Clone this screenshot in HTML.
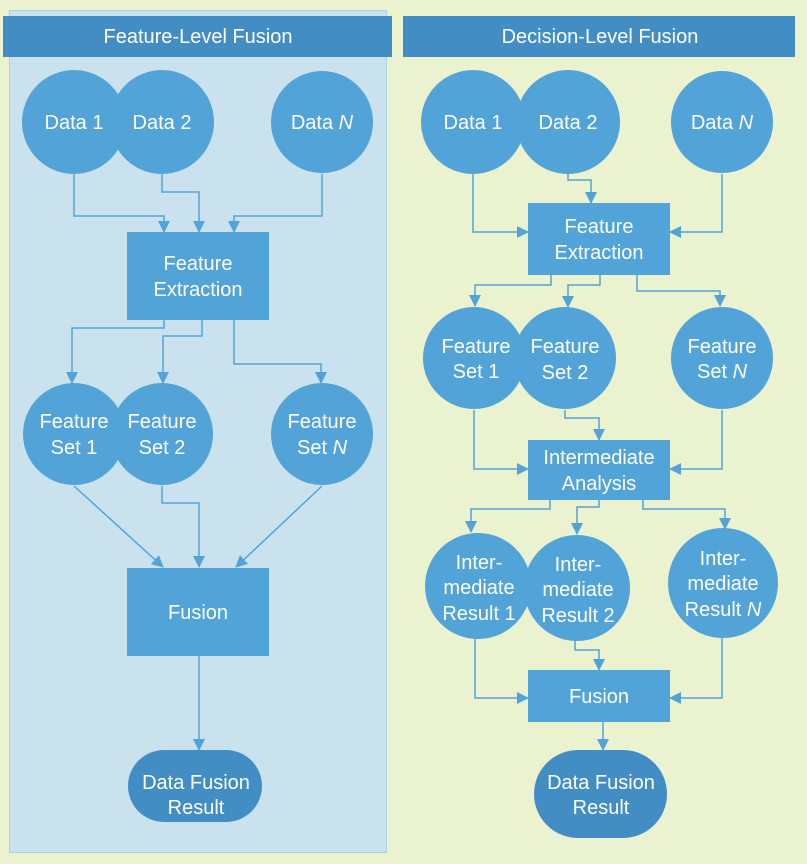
<!DOCTYPE html>
<html><head><meta charset="utf-8"><style>
html,body{margin:0;padding:0;background:#eaf2cf;}
svg{display:block}
text{font-family:"Liberation Sans",sans-serif;font-size:20px;fill:#fff;text-anchor:middle}
</style></head><body>
<svg width="807" height="864" viewBox="0 0 807 864" xmlns="http://www.w3.org/2000/svg">
<defs><marker id="a" markerWidth="12" markerHeight="12" refX="11" refY="6" orient="auto" markerUnits="userSpaceOnUse"><path d="M0,0 L12,6 L0,12 z" fill="#52a4d8"/></marker></defs>
<rect x="0" y="0" width="807" height="864" fill="#eaf2cf"/>
<rect x="9.5" y="10.5" width="377" height="842" fill="#c9e2ee" stroke="#a9d0e4"/>
<rect x="3" y="16" width="389" height="41" fill="#428ec4"/>
<rect x="403" y="16" width="392" height="41" fill="#428ec4"/>
<text x="198" y="43">Feature-Level Fusion</text>
<text x="600" y="43">Decision-Level Fusion</text>
<g fill="none" stroke="#52a4d8" stroke-width="1.5" marker-end="url(#a)">
<polyline points="74,174 74,216 164,216 164,232"/>
<polyline points="162,174 162,192 199,192 199,232"/>
<polyline points="322,174 322,216 234,216 234,232"/>
<polyline points="164,320 164,328 72,328 72,383"/>
<polyline points="202,320 202,336 163,336 163,383"/>
<polyline points="234,320 234,364 321,364 321,383"/>
<polyline points="74,486 163,567"/>
<polyline points="162,486 162,503 199,503 199,567"/>
<polyline points="322,486 236,567"/>
<polyline points="199,656 199,750"/>
<polyline points="473,174 473,232 528,232"/>
<polyline points="568,174 568,180 591,180 591,203"/>
<polyline points="722,174 722,232 670,232"/>
<polyline points="551,275 551,285 475,285 475,306"/>
<polyline points="600,275 600,285 568,285 568,307"/>
<polyline points="637,275 637,291 720,291 720,306"/>
<polyline points="474,410 474,469 528,469"/>
<polyline points="565,410 565,418 599,418 599,440"/>
<polyline points="722,410 722,469 670,469"/>
<polyline points="550,500 550,509 471,509 471,532"/>
<polyline points="599,500 599,507 577,507 577,534"/>
<polyline points="643,500 643,509 725,509 725,529"/>
<polyline points="475,638 475,698 528,698"/>
<polyline points="575,640 575,650 599,650 599,670"/>
<polyline points="722,638 722,698 670,698"/>
<polyline points="603,722 603,750"/>
</g>
<g fill="#52a4d8">
<circle cx="74" cy="122" r="52"/><circle cx="162" cy="122" r="52"/><circle cx="322" cy="122" r="51"/>
<rect x="127" y="232" width="142" height="88"/>
<circle cx="74" cy="434" r="51"/><circle cx="162" cy="434" r="51"/><circle cx="322" cy="434" r="51"/>
<rect x="127" y="568" width="142" height="88"/>
<circle cx="473" cy="122" r="52"/><circle cx="568" cy="122" r="52"/><circle cx="722" cy="122" r="51"/>
<rect x="528" y="203" width="142" height="72"/>
<circle cx="474" cy="358" r="51"/><circle cx="565" cy="358" r="51"/><circle cx="722" cy="358" r="51"/>
<rect x="528" y="440" width="142" height="60"/>
<circle cx="478" cy="586" r="53"/><circle cx="577" cy="588" r="53"/><circle cx="723" cy="583" r="55"/>
<rect x="528" y="670" width="142" height="52"/>
</g>
<g fill="#428ec4">
<rect x="128" y="750" width="134" height="72" rx="36"/>
<rect x="534" y="750" width="133" height="88" rx="44"/>
</g>
<text x="74" y="129">Data 1</text><text x="162" y="129">Data 2</text><text x="322" y="129">Data <tspan font-style="italic">N</tspan></text>
<text x="198" y="270">Feature</text><text x="198" y="296">Extraction</text>
<text x="74" y="428">Feature</text><text x="74" y="454">Set 1</text>
<text x="162" y="428">Feature</text><text x="162" y="454">Set 2</text>
<text x="322" y="428">Feature</text><text x="322" y="454">Set <tspan font-style="italic">N</tspan></text>
<text x="198" y="619">Fusion</text>
<text x="196" y="789">Data Fusion</text><text x="196" y="814">Result</text>
<text x="473" y="129">Data 1</text><text x="568" y="129">Data 2</text><text x="722" y="129">Data <tspan font-style="italic">N</tspan></text>
<text x="599" y="233">Feature</text><text x="599" y="259">Extraction</text>
<text x="476" y="353">Feature</text><text x="476" y="378">Set 1</text>
<text x="565" y="353">Feature</text><text x="565" y="379">Set 2</text>
<text x="722" y="353">Feature</text><text x="722" y="378">Set <tspan font-style="italic">N</tspan></text>
<text x="599" y="464">Intermediate</text><text x="599" y="490">Analysis</text>
<text x="479" y="569">Inter-</text><text x="479" y="594">mediate</text><text x="479" y="620">Result 1</text>
<text x="578" y="571">Inter-</text><text x="578" y="596">mediate</text><text x="578" y="622">Result 2</text>
<text x="723" y="565">Inter-</text><text x="723" y="590">mediate</text><text x="723" y="616">Result <tspan font-style="italic">N</tspan></text>
<text x="599" y="703">Fusion</text>
<text x="601" y="789">Data Fusion</text><text x="601" y="814">Result</text>
</svg>
</body></html>
